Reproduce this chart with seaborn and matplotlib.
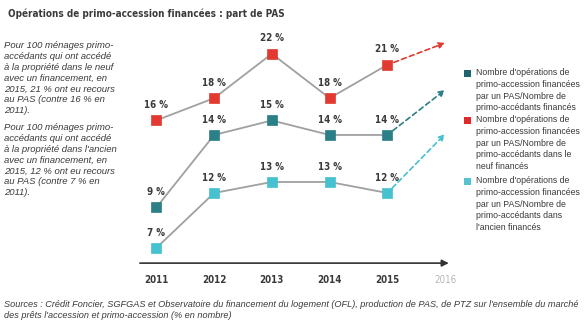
import matplotlib
matplotlib.use('Agg')
import matplotlib.pyplot as plt
from matplotlib.patches import Rectangle
import seaborn as sns
import pandas as pd

# ---- data ----
years = [2011, 2012, 2013, 2014, 2015]
future_year = 2016
year_labels = ['2011', '2012', '2013', '2014', '2015', '2016']
neuf = [16, 18, 22, 18, 21]      # red: dans le neuf
total = [9, 14, 15, 14, 14]      # dark teal: ensemble
ancien = [7, 12, 13, 13, 12]     # light cyan: dans l'ancien

title = "Opérations de primo-accession financées : part de PAS"
note_neuf = ("Pour 100 ménages primo-\naccédants qui ont accédé\nà la propriété dans le neuf\n"
             "avec un financement, en\n2015, 21 % ont eu recours\nau PAS (contre 16 % en\n2011).")
note_ancien = ("Pour 100 ménages primo-\naccédants qui ont accédé\nà la propriété dans l'ancien\n"
               "avec un financement, en\n2015, 12 % ont eu recours\nau PAS (contre 7 % en\n2011).")
legend_total = "Nombre d'opérations de\nprimo-accession financées\npar un PAS/Nombre de\nprimo-accédants financés"
legend_neuf = ("Nombre d'opérations de\nprimo-accession financées\npar un PAS/Nombre de\n"
               "primo-accédants dans le\nneuf financés")
legend_ancien = ("Nombre d'opérations de\nprimo-accession financées\npar un PAS/Nombre de\n"
                 "primo-accédants dans\nl'ancien financés")
source = ("Sources : Crédit Foncier, SGFGAS et Observatoire du financement du logement (OFL), production de PAS, "
          "de PTZ sur l'ensemble du marché\ndes prêts l'accession et primo-accession (% en nombre)")

# ---- style ----
sns.set_theme(style='white')
plt.rcParams['font.family'] = ['Liberation Sans', 'DejaVu Sans']
TXT = '#3a3a3a'
RED = '#e23a30'
TEAL = '#2b7f86'
CYAN = '#45c1cf'
LEG_TEAL = '#1f6570'
LEG_RED = '#e0292b'
LEG_CYAN = '#55c3cc'
LINE = '#a0a0a0'
COND = ['DejaVu Sans']

W, H = 588, 324
def fx(p):
    return p / W
def fy(p):
    return 1 - p / H

fig = plt.figure(figsize=(5.88, 3.24), dpi=100)
rect = [fx(130), fy(265), 330 / W, 235 / H]

series = [
    ('neuf', neuf, RED, (2.97, 24.14), 0.945),
    ('total', total, TEAL, (5.03, 21.24), 0.745),
    ('ancien', ancien, CYAN, (5.45, 26.82), 0.557),
]

for i, (name, vals, col, ylim, tip) in enumerate(series):
    ax = fig.add_axes(rect, label=name)
    ax.patch.set_visible(False)
    df = pd.DataFrame({'year': years, 'value': vals})
    sns.lineplot(data=df, x='year', y='value', color=LINE, lw=1.3, ax=ax, zorder=2)
    sns.scatterplot(data=df, x='year', y='value', marker='s', s=62, color=col,
                    edgecolor=col, linewidth=0.5, ax=ax, zorder=3)
    ax.set_xlim(2010.543, 2016.259)
    ax.set_ylim(*ylim)
    for x, v in zip(years, vals):
        ax.annotate(f'{v} %', (x, v), xytext=(0, 7.5), textcoords='offset points',
                    ha='center', va='bottom', fontsize=7, fontweight='bold', color=TXT,
                    family=COND, fontstretch='condensed')
    ax.annotate('', xy=(future_year, tip), xycoords=('data', 'axes fraction'),
                xytext=(years[-1], vals[-1]), textcoords='data',
                arrowprops=dict(arrowstyle='-|>', linestyle=(0, (3, 2)), color=col,
                                lw=1.2, shrinkA=5, shrinkB=0, mutation_scale=9))
    ax.set_xlabel('')
    ax.set_ylabel('')
    ax.set_yticks([])
    for s in ax.spines.values():
        s.set_visible(False)
    if i == 0:
        ax.set_xticks(years + [future_year])
        ax.set_xticklabels(year_labels)
        ax.tick_params(axis='x', length=0, pad=7, labelsize=7, labelcolor=TXT)
        for lab in ax.get_xticklabels():
            lab.set_family(COND)
            lab.set_fontstretch('condensed')
            lab.set_fontweight('bold')
        ax.get_xticklabels()[-1].set_color('#b5b5b5')
        ax.get_xticklabels()[-1].set_fontweight('normal')
        ax.annotate('', xy=(0.966, 0.008), xytext=(0.03, 0.008), xycoords='axes fraction',
                    arrowprops=dict(arrowstyle='-|>', color='#333333', lw=1.2,
                                    shrinkA=0, shrinkB=0, mutation_scale=10))
    else:
        ax.set_xticks([])

# title
fig.text(fx(8), fy(14), title, ha='left', va='center', fontsize=7.1, fontweight='bold',
         color=TXT, family=COND, fontstretch='condensed')

# left notes
fig.text(fx(4), fy(41), note_neuf, ha='left', va='top', fontsize=6.8, style='italic',
         color=TXT, linespacing=1.27)
fig.text(fx(4), fy(123), note_ancien, ha='left', va='top', fontsize=6.8, style='italic',
         color=TXT, linespacing=1.27)

# legend
for ytop, col, lab in [(68, LEG_TEAL, legend_total), (115, LEG_RED, legend_neuf),
                       (176, LEG_CYAN, legend_ancien)]:
    fig.add_artist(Rectangle((fx(464), fy(ytop + 8.5)), 7 / W, 7 / H,
                             transform=fig.transFigure, color=col, lw=0))
    fig.text(fx(476), fy(ytop), lab, ha='left', va='top', fontsize=6.35, color=TXT,
             linespacing=1.4)

# source
fig.text(fx(4), fy(300), source, ha='left', va='top', fontsize=6.6, style='italic',
         color=TXT, linespacing=1.3)

fig.savefig('out.png', dpi=100)
